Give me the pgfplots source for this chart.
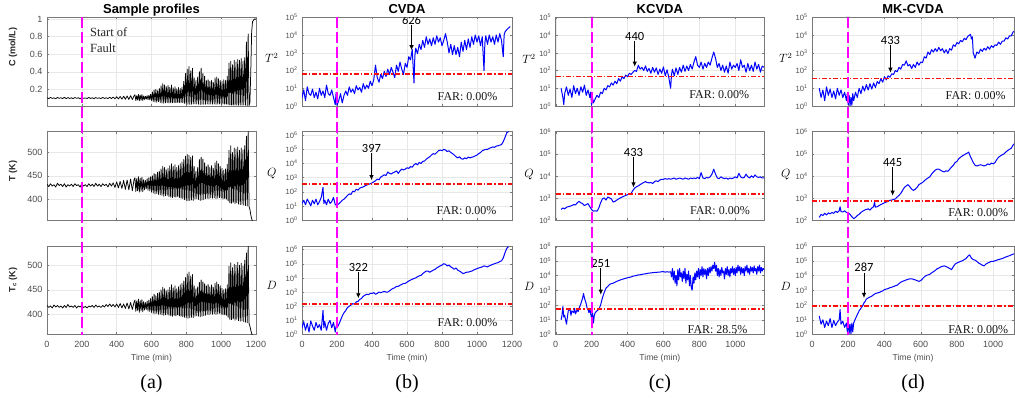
\documentclass[border=0pt]{standalone}
\usepackage{pgfplots}
\pgfplotsset{compat=1.18}
\usepackage{pgfplotstable}
\usepackage{fontspec}
\setmainfont{Liberation Sans}
\newfontfamily\serifff{Liberation Serif}
\newfontfamily\annff{Carlito}
\usetikzlibrary{arrows.meta}

\definecolor{mblue}{RGB}{0,0,255}
\definecolor{mred}{RGB}{250,15,15}
\definecolor{mmag}{RGB}{255,0,255}
\definecolor{axgray}{RGB}{120,120,120}
\definecolor{tickgray}{RGB}{77,77,77}

\pgfplotsset{
 mbase/.style={scale only axis, anchor=south west,
   axis line style={axgray, line width=0.5pt},
   every tick/.style={axgray, line width=0.4pt},
   tick align=inside, major tick length=2.2pt,
   tick label style={text=tickgray, font=\fontsize{9}{10}\selectfont},
   /pgf/number format/assume math mode=true,
   /pgf/number format/1000 sep={},
   grid=major, major grid style={black!9, line width=0.4pt},
   every axis title/.style={font=\bfseries\fontsize{13}{14}\selectfont, at={(0.5,1)}, anchor=base, yshift=3.7pt},
   xlabel style={font=\fontsize{8.6}{10}\selectfont, text=tickgray, at={(axis description cs:0.5,0)}, anchor=base, yshift=-26pt},
   xticklabel style={yshift=-3pt}, yticklabel style={xshift=-1pt},
   clip=true},
 nox/.style={xticklabels={}},
 logsty/.style={yminorticks=false, yticklabel style={font=\fontsize{7.6}{8}\selectfont}},
 dfive/.style={ytick={1,10,100,1000,10000,100000}, yticklabels={10\textsuperscript{0},10\textsuperscript{1},10\textsuperscript{2},10\textsuperscript{3},10\textsuperscript{4},10\textsuperscript{5}}},
 dsix/.style={ytick={1,10,100,1000,10000,100000,1000000}, yticklabels={10\textsuperscript{0},10\textsuperscript{1},10\textsuperscript{2},10\textsuperscript{3},10\textsuperscript{4},10\textsuperscript{5},10\textsuperscript{6}}},
 dtwosix/.style={ytick={100,1000,10000,100000,1000000}, yticklabels={10\textsuperscript{2},10\textsuperscript{3},10\textsuperscript{4},10\textsuperscript{5},10\textsuperscript{6}}},
 ylabm/.style 2 args={every axis y label/.style={at={(axis description cs:#1,#2)}, anchor=center, font=\fontsize{11.5}{12}\selectfont}},
 ylabr/.style 2 args={every axis y label/.style={at={(axis description cs:#1,#2)}, anchor=center, rotate=90, font=\bfseries\fontsize{9}{10}\selectfont, text=black!85}},
 blue line/.style={mblue, line width=1pt, line join=round},
 thr/.style={mred, line width=1.6pt, dash pattern=on 5pt off 2pt on 1.3pt off 2pt},
 prof/.style={black, line width=0.75pt, line join=round},
}

\newcommand{\alarm}[4]{\draw[line width=0.8pt, -{Latex[length=5pt,width=4.5pt]}] (axis cs:#1,#2) ++(0,#3) node[anchor=south, inner sep=0.3pt, font=\annff\fontsize{12.5}{14}\selectfont]{#4} -- (axis cs:#1,#2);}
\newcommand{\far}[3]{\node[anchor=base east, inner sep=0, xshift=#1, yshift=#2, font=\serifff\fontsize{12}{14}\selectfont, text=black!90] at (rel axis cs:1,0) {FAR: #3};}

% ---------------- data ----------------
\pgfplotstableread[row sep=\\]{t C T Tc\\
0 .105 432 418\\10 .094 427 414\\20 .108 433 417\\30 .096 428 413\\40 .103 431 419\\50 .092 426 415\\60 .107 434 418\\70 .097 429 414\\80 .104 432 417\\90 .095 427 413\\
100 .109 433 418\\110 .093 426 414\\120 .106 431 420\\130 .096 428 415\\140 .103 432 417\\150 .094 427 414\\160 .107 433 418\\170 .097 429 413\\180 .104 431 417\\190 .093 426 415\\
200 .106 433 418\\210 .097 428 414\\220 .102 431 416\\230 .095 427 413\\240 .108 433 417\\250 .096 428 415\\260 .104 432 418\\270 .094 427 414\\280 .106 434 419\\290 .097 428 415\\
300 .103 432 417\\310 .095 427 414\\320 .107 433 418\\330 .096 429 415\\340 .104 432 420\\350 .094 426 416\\360 .109 434 421\\370 .095 428 416\\380 .112 435 420\\390 .092 425 415\\
400 .115 437 421\\410 .090 424 414\\420 .118 438 422\\430 .088 423 413\\440 .122 440 421\\450 .087 421 412\\460 .125 441 423\\470 .085 420 411\\480 .128 443 424\\490 .084 418 410\\
500 .126 442 425\\505 .138 446 429\\510 .072 416 406\\515 .128 444 427\\520 .078 418 408\\525 .142 448 431\\530 .070 415 404\\535 .135 445 428\\540 .075 417 407\\545 .140 447 430\\
550 .073 416 405\\555 .125 442 426\\560 .085 420 409\\565 .120 440 424\\570 .088 422 410\\575 .128 444 427\\580 .082 419 407\\585 .132 446 429\\590 .080 418 406\\595 .145 448 432\\
600 .072 415 404\\605 .170 450 436\\610 .060 413 402\\615 .190 455 441\\620 .055 411 401\\625 .200 453 438\\630 .052 412 402\\635 .185 458 443\\640 .058 410 400\\645 .210 460 445\\
650 .050 409 400\\655 .240 465 450\\660 .045 408 399\\665 .265 470 455\\670 .042 406 398\\675 .250 468 452\\680 .046 407 399\\685 .230 463 448\\690 .048 408 400\\695 .245 466 450\\
700 .044 405 398\\705 .225 472 455\\710 .048 404 397\\715 .250 476 460\\720 .046 403 396\\725 .215 470 454\\730 .050 405 398\\735 .230 474 458\\740 .047 404 397\\745 .205 468 452\\
750 .052 406 399\\755 .220 472 456\\760 .049 403 397\\765 .210 476 460\\770 .050 402 396\\775 .225 480 463\\780 .046 401 395\\785 .290 485 468\\790 .040 399 394\\795 .380 492 475\\
800 .032 397 393\\805 .430 496 482\\810 .030 396 392\\815 .460 494 486\\820 .028 397 393\\825 .410 490 478\\830 .030 398 394\\835 .440 493 481\\840 .032 397 393\\845 .330 470 458\\
850 .034 400 396\\855 .300 460 452\\860 .032 401 397\\865 .340 468 456\\870 .030 399 396\\875 .400 485 465\\880 .028 397 395\\885 .440 490 470\\890 .030 398 396\\895 .380 486 466\\
900 .029 399 397\\905 .350 478 462\\910 .031 401 398\\915 .300 470 458\\920 .032 402 400\\925 .310 474 461\\930 .030 401 399\\935 .290 468 456\\940 .033 403 401\\945 .300 472 460\\
950 .031 402 400\\955 .280 466 455\\960 .032 403 401\\965 .330 478 463\\970 .030 401 400\\975 .340 482 466\\980 .031 402 401\\985 .320 476 461\\990 .033 403 402\\995 .300 470 458\\
1000 .031 402 400\\1005 .290 466 453\\1010 .032 400 399\\1015 .310 462 450\\1020 .030 401 399\\1025 .300 465 452\\1030 .031 400 398\\1035 .350 475 460\\1040 .028 396 394\\1045 .500 505 498\\
1050 .022 392 390\\1055 .520 515 505\\1060 .020 391 389\\1065 .480 500 495\\1070 .021 393 391\\1075 .530 510 502\\1080 .020 390 388\\1085 .510 508 500\\1090 .021 392 390\\1095 .540 512 506\\
1100 .019 389 387\\1105 .530 505 500\\1110 .020 388 386\\1115 .550 510 504\\1120 .019 389 387\\1125 .520 506 498\\1130 .020 387 385\\1135 .560 515 510\\1140 .018 386 384\\1145 .740 535 525\\
1150 .016 385 383\\1155 .830 545 538\\1160 .015 384 382\\1165 .050 378 376\\1170 .400 366 368\\1175 .850 358 361\\1180 .970 352 357\\1190 1.000 350 355\\1200 1.000 350 355\\
}\tprof

% CVDA
\pgfplotstableread[row sep=\\]{t v\\
0 3\\10 8\\20 2\\30 12\\40 5\\50 4\\60 9\\70 3\\80 6\\90 2.5\\100 10\\110 4\\120 7\\130 3\\140 15\\150 5\\160 4\\170 8\\180 3\\190 1.2\\195 6\\200 1.1\\210 2\\220 5\\230 1.5\\240 4\\250 7\\260 4\\270 12\\280 6\\290 9\\
300 5\\310 14\\320 8\\330 11\\340 6\\350 18\\360 9\\370 15\\380 10\\390 25\\400 14\\410 30\\420 200\\430 40\\440 22\\450 60\\460 35\\470 90\\480 45\\490 120\\500 60\\510 150\\520 80\\530 40\\540 200\\550 90\\560 300\\570 120\\580 60\\590 250\\
600 150\\610 600\\620 400\\630 1500\\640 20\\645 700\\650 1800\\660 900\\670 3000\\680 1500\\690 5000\\700 2000\\710 8000\\720 3000\\730 6000\\740 2500\\750 7000\\760 3000\\770 9000\\780 4000\\790 7000\\800 2500\\810 5000\\820 12000\\830 4000\\840 1000\\850 3000\\860 800\\870 2500\\880 800\\890 2000\\
900 600\\910 4000\\920 1200\\930 5000\\940 1500\\950 6000\\960 2000\\970 8000\\980 3000\\990 10000\\1000 4000\\1010 9000\\1020 2500\\1030 8000\\1040 100\\1045 3500\\1050 9000\\1060 3000\\1070 10000\\1080 4000\\1090 8000\\1100 3000\\1110 10000\\1120 4000\\1130 12000\\1140 5000\\1150 600\\1155 10000\\1160 15000\\1170 20000\\1180 25000\\1190 30000\\
}\tbA
\pgfplotstableread[row sep=\\]{t v\\
0 15\\10 25\\20 12\\30 30\\40 18\\50 10\\60 25\\70 14\\80 30\\90 12\\100 20\\110 40\\120 200\\125 15\\130 25\\140 12\\150 30\\160 15\\170 20\\180 40\\190 12\\200 11\\210 14\\220 18\\230 25\\240 30\\250 40\\260 55\\270 70\\280 65\\290 110\\
300 100\\310 150\\320 130\\330 180\\340 200\\350 220\\360 260\\370 300\\380 330\\390 370\\400 420\\410 500\\420 600\\430 800\\440 700\\450 1100\\460 1300\\470 1600\\480 1400\\490 2500\\500 2000\\510 1800\\520 2200\\530 2500\\540 3000\\550 2000\\560 3000\\570 4000\\580 3500\\590 4000\\
600 5000\\610 4500\\620 6000\\630 5500\\640 8000\\650 10000\\660 8000\\670 12000\\680 10000\\690 14000\\700 15000\\710 20000\\720 25000\\730 30000\\740 40000\\750 50000\\760 45000\\770 60000\\780 80000\\790 90000\\800 80000\\810 100000\\820 90000\\830 70000\\840 80000\\850 60000\\860 50000\\870 40000\\880 30000\\890 25000\\
900 30000\\910 22000\\920 20000\\930 25000\\940 22000\\950 28000\\960 25000\\970 28000\\980 30000\\990 35000\\1000 40000\\1010 50000\\1020 60000\\1030 80000\\1040 90000\\1050 100000\\1060 100000\\1070 120000\\1080 130000\\1090 150000\\1100 140000\\1110 170000\\1120 180000\\1130 200000\\1140 220000\\1150 350000\\1160 700000\\1170 1500000\\1180 1800000\\
}\tbB
\pgfplotstableread[row sep=\\]{t v\\
0 3\\10 8\\20 2\\30 6\\40 1.5\\50 9\\60 4\\70 2\\80 7\\90 3\\100 5\\110 2\\120 50\\125 3\\130 8\\140 2\\150 6\\160 10\\170 3\\180 7\\190 1.5\\195 4\\200 3\\210 5\\220 10\\230 20\\240 35\\250 50\\260 80\\270 100\\280 120\\290 150\\
300 140\\310 200\\320 220\\330 300\\340 350\\350 500\\360 600\\370 700\\380 650\\390 800\\400 800\\410 900\\420 700\\430 800\\440 1000\\450 900\\460 1000\\470 1100\\480 1000\\490 1000\\500 1200\\510 1500\\520 1800\\530 2000\\540 2500\\550 2500\\560 3000\\570 3500\\580 4000\\590 4000\\
600 5000\\610 6000\\620 7000\\630 8000\\640 9000\\650 10000\\660 12000\\670 14000\\680 15000\\690 20000\\700 25000\\710 30000\\720 30000\\730 25000\\740 30000\\750 35000\\760 40000\\770 50000\\780 60000\\790 70000\\800 80000\\810 100000\\820 90000\\830 70000\\840 80000\\850 60000\\860 50000\\870 40000\\880 50000\\890 35000\\
900 30000\\910 25000\\920 20000\\930 22000\\940 25000\\950 25000\\960 28000\\970 30000\\980 35000\\990 40000\\1000 45000\\1010 50000\\1020 55000\\1030 60000\\1040 70000\\1050 65000\\1060 60000\\1070 70000\\1080 80000\\1090 90000\\1100 100000\\1110 110000\\1120 120000\\1130 140000\\1140 160000\\1150 250000\\1160 600000\\1170 1200000\\1180 1600000\\
}\tbC

% KCVDA
\pgfplotstableread[row sep=\\]{t v\\
30 10\\40 3\\45 1.2\\50 5\\60 12\\70 4\\80 9\\90 3\\100 14\\110 5\\120 10\\130 4\\140 12\\150 6\\160 15\\170 4\\180 8\\190 3\\195 6\\200 1.1\\205 3\\210 1.5\\220 2.5\\230 4\\240 3\\250 6\\260 5\\270 10\\280 8\\290 14\\
300 12\\310 20\\320 15\\330 25\\340 18\\350 35\\360 25\\370 45\\380 35\\390 55\\400 45\\410 70\\420 60\\430 80\\440 100\\450 90\\460 200\\470 120\\480 150\\490 100\\500 180\\510 90\\520 130\\530 70\\540 150\\550 80\\560 140\\570 60\\580 120\\590 70\\
600 160\\610 50\\620 110\\630 40\\640 10\\645 60\\650 120\\660 50\\670 140\\680 60\\690 150\\700 80\\710 200\\720 90\\730 180\\740 100\\750 220\\760 120\\770 300\\780 600\\790 200\\800 150\\810 300\\820 120\\830 250\\840 150\\850 300\\860 200\\870 500\\880 1100\\890 500\\
900 150\\910 250\\920 100\\930 200\\940 80\\950 180\\960 70\\970 300\\980 120\\990 200\\1000 150\\1010 250\\1020 100\\1030 400\\1040 150\\1050 200\\1060 80\\1070 250\\1080 100\\1090 200\\1100 90\\1110 300\\1120 120\\1130 220\\1140 80\\1150 180\\1160 150\\
}\tcA
\pgfplotstableread[row sep=\\]{t v\\
30 300\\40 350\\50 320\\60 380\\70 400\\80 420\\90 450\\100 500\\110 480\\120 600\\130 700\\140 600\\150 550\\160 450\\170 500\\180 550\\190 400\\200 300\\210 250\\220 260\\230 250\\240 350\\250 600\\260 900\\270 1000\\280 800\\290 1100\\
300 1000\\310 900\\320 650\\330 700\\340 800\\350 900\\360 1000\\370 1100\\380 1200\\390 1300\\400 1400\\410 1500\\420 1600\\430 2200\\440 2800\\450 3200\\460 3500\\470 4000\\480 4500\\490 5000\\500 5500\\510 5000\\520 4800\\530 5000\\540 4500\\550 5500\\560 6000\\570 5500\\580 6500\\590 7000\\
600 7000\\610 7500\\620 7000\\630 7500\\640 7000\\650 7500\\660 8000\\670 7000\\680 7500\\690 8000\\700 7500\\710 7000\\720 8000\\730 7500\\740 7000\\750 8000\\760 7500\\770 8000\\780 7500\\790 8500\\800 7500\\810 14000\\820 8000\\830 7500\\840 8500\\850 8000\\860 9000\\870 12000\\880 20000\\890 12000\\
900 8000\\910 7500\\920 9000\\930 8000\\940 7500\\950 8000\\960 7000\\970 8000\\980 7500\\990 8000\\1000 9000\\1010 8000\\1020 13000\\1030 9000\\1040 8000\\1050 8500\\1060 12000\\1070 9000\\1080 8000\\1090 10000\\1100 8500\\1110 11000\\1120 9000\\1130 8500\\1140 9000\\1150 8000\\1160 8000\\
}\tcB
\pgfplotstableread[row sep=\\]{t v\\
30 10\\35 20\\40 80\\45 15\\50 20\\55 10\\60 5\\65 15\\70 40\\80 50\\85 20\\90 40\\100 30\\105 60\\110 25\\120 50\\125 35\\130 60\\140 120\\150 300\\155 600\\160 300\\170 120\\175 60\\180 50\\185 30\\190 60\\195 25\\200 12\\205 30\\210 6\\215 20\\220 30\\230 40\\240 50\\250 100\\260 300\\270 700\\280 1400\\290 1800\\
300 2500\\310 2800\\320 3000\\330 3500\\340 4000\\350 4500\\360 5000\\370 5500\\380 6000\\390 6500\\400 7000\\410 7500\\420 8000\\430 9000\\440 9500\\450 10000\\460 11000\\470 11000\\480 12000\\490 12500\\500 13000\\510 14000\\520 14500\\530 15000\\540 15500\\550 16000\\560 16000\\570 17000\\580 17000\\590 18000\\
600 18000\\610 17000\\620 18000\\630 17000\\640 18000\\645 8000\\650 30000\\655 5000\\660 20000\\665 3000\\670 10000\\675 2000\\680 25000\\685 5000\\690 30000\\695 8000\\700 15000\\705 4000\\710 20000\\715 6000\\720 30000\\725 3000\\730 12000\\735 5000\\740 20000\\745 2000\\750 10000\\755 1500\\760 1000\\765 8000\\770 3000\\775 15000\\780 5000\\785 20000\\790 8000\\795 30000\\
800 6000\\805 25000\\810 10000\\815 40000\\820 8000\\825 30000\\830 12000\\835 25000\\840 6000\\845 30000\\850 10000\\855 35000\\860 15000\\865 40000\\870 20000\\875 50000\\880 30000\\885 80000\\890 20000\\895 50000\\
900 10000\\905 30000\\910 8000\\915 25000\\920 10000\\925 35000\\930 15000\\935 20000\\940 6000\\945 30000\\950 12000\\955 40000\\960 10000\\965 25000\\970 8000\\975 30000\\980 15000\\985 40000\\990 12000\\995 30000\\
1000 10000\\1005 35000\\1010 15000\\1015 50000\\1020 20000\\1025 40000\\1030 12000\\1035 35000\\1040 15000\\1045 30000\\1050 10000\\1055 40000\\1060 20000\\1065 50000\\1070 15000\\1075 30000\\1080 12000\\1085 40000\\1090 20000\\1095 35000\\
1100 15000\\1105 45000\\1110 20000\\1115 30000\\1120 12000\\1125 40000\\1130 20000\\1135 50000\\1140 15000\\1145 35000\\1150 20000\\1155 30000\\1160 25000\\
}\tcC

% MK-CVDA
\pgfplotstableread[row sep=\\]{t v\\
40 10\\50 3\\60 8\\70 2\\80 12\\90 4\\100 9\\110 3\\120 7\\130 2.5\\140 10\\150 4\\160 8\\170 3\\180 6\\190 2\\195 5\\200 1.2\\205 4\\210 1\\215 3\\220 1.1\\225 5\\230 2\\240 6\\250 3\\260 10\\270 5\\280 13\\290 7\\
300 16\\310 8\\320 18\\330 9\\340 20\\350 11\\360 24\\370 18\\380 35\\390 22\\400 45\\410 30\\420 50\\430 42\\440 65\\450 60\\460 100\\470 85\\480 150\\490 120\\500 220\\510 200\\520 350\\530 180\\540 220\\550 130\\560 220\\570 150\\580 300\\590 200\\
600 300\\610 280\\620 600\\630 500\\640 1100\\650 800\\660 1500\\670 1100\\680 1700\\690 1200\\700 2000\\710 1300\\720 1700\\730 1000\\740 1500\\750 900\\760 1700\\770 1400\\780 2800\\790 2300\\800 3800\\810 3200\\820 5000\\830 4200\\840 6500\\850 5500\\860 8500\\870 10000\\875 11000\\880 6000\\885 8000\\890 1000\\895 700\\
900 500\\910 1100\\920 900\\930 1600\\940 1200\\950 1800\\960 1400\\970 2200\\980 1600\\990 2500\\1000 2000\\1010 2800\\1020 2600\\1030 4000\\1040 3000\\1050 4500\\1060 4500\\1070 7000\\1080 6000\\1090 9000\\1100 9000\\1110 15000\\1115 16000\\
}\tdA
\pgfplotstableread[row sep=\\]{t v\\
40 130\\50 180\\60 160\\70 200\\80 170\\90 210\\100 190\\110 220\\120 200\\130 250\\140 220\\150 260\\155 400\\160 240\\170 230\\180 260\\190 220\\200 210\\210 180\\220 140\\230 115\\240 130\\250 160\\260 180\\270 220\\280 250\\290 280\\
300 300\\310 320\\320 280\\330 350\\340 400\\345 650\\350 380\\360 400\\370 450\\380 500\\390 550\\400 600\\410 650\\420 700\\430 780\\440 800\\450 850\\460 900\\470 1100\\480 1300\\490 1600\\500 2200\\510 3000\\520 3500\\530 4000\\540 3200\\550 2500\\560 2200\\570 2500\\580 3000\\590 4000\\
600 4500\\610 5000\\620 6000\\630 7000\\640 8000\\650 9000\\660 12000\\670 15000\\680 18000\\690 20000\\700 20000\\710 18000\\720 16000\\730 15000\\740 17000\\750 16000\\760 20000\\770 25000\\780 30000\\790 40000\\800 45000\\810 60000\\820 70000\\830 80000\\840 90000\\850 100000\\860 110000\\865 120000\\870 90000\\880 60000\\890 40000\\
900 30000\\910 28000\\920 30000\\930 32000\\940 30000\\950 28000\\960 30000\\970 35000\\980 32000\\990 38000\\1000 35000\\1010 40000\\1020 55000\\1030 70000\\1040 80000\\1050 90000\\1060 100000\\1070 120000\\1080 140000\\1090 160000\\1100 180000\\1110 250000\\1115 280000\\
}\tdB
\pgfplotstableread[row sep=\\]{t v\\
40 18\\50 5\\60 10\\70 3\\80 8\\90 4\\100 12\\110 3\\120 9\\130 4\\140 7\\150 10\\155 50\\160 5\\170 8\\180 3\\190 6\\195 1.5\\200 8\\205 1.2\\210 5\\215 1.1\\220 6\\225 1.5\\230 6\\240 12\\250 22\\260 40\\270 60\\280 90\\287 140\\290 150\\
300 250\\310 300\\320 350\\330 400\\340 500\\350 600\\360 650\\370 700\\380 800\\390 900\\400 1100\\410 1200\\420 1300\\430 1500\\440 1600\\450 1800\\460 2000\\470 2200\\480 2800\\490 3500\\500 4000\\510 4500\\520 5000\\530 5500\\540 6000\\550 6000\\560 5500\\570 5000\\580 4500\\590 4000\\
600 4500\\610 6000\\620 8000\\630 10000\\640 11000\\650 12000\\660 15000\\670 18000\\680 22000\\690 28000\\700 32000\\710 38000\\720 42000\\730 45000\\740 40000\\750 35000\\760 30000\\770 25000\\780 40000\\790 60000\\800 70000\\810 80000\\820 90000\\830 100000\\840 120000\\850 140000\\860 200000\\870 250000\\880 150000\\890 120000\\
900 110000\\910 90000\\920 70000\\930 60000\\940 50000\\950 45000\\960 60000\\970 70000\\980 80000\\990 90000\\1000 90000\\1010 100000\\1020 110000\\1030 120000\\1040 130000\\1050 140000\\1060 160000\\1070 180000\\1080 200000\\1090 220000\\1100 250000\\1110 280000\\1115 300000\\
}\tdC

\begin{document}
\begin{tikzpicture}
\path[use as bounding box] (0,0) rectangle (1015pt,397pt);

% ================= column (a) =================
\begin{axis}[mbase, nox, at={(47pt,291pt)}, width=209pt, height=88.7pt,
  xmin=0, xmax=1200, xtick={0,200,...,1200}, ymin=0.01, ymax=1.02, ytick={0.2,0.4,0.6,0.8,1},
  title={Sample profiles}, ylabr={-0.163}{0.66}, ylabel={C (mol/L)}]
\addplot[prof] table[x=t,y=C]{\tprof};
\coordinate (fa1) at (axis cs:200,1.02);
\node[anchor=base west, inner sep=0, font=\serifff\fontsize{12.5}{14}\selectfont, text=black!85] at (axis cs:247,0.796) {Start of};
\node[anchor=base west, inner sep=0, font=\serifff\fontsize{12.5}{14}\selectfont, text=black!85] at (axis cs:247,0.619) {Fault};
\end{axis}

\begin{axis}[mbase, nox, at={(47pt,177pt)}, width=209pt, height=88.3pt,
  xmin=0, xmax=1200, xtick={0,200,...,1200}, ymin=355, ymax=545, ytick={400,450,500},
  ylabr={-0.163}{0.557}, ylabel={T (K)}]
\addplot[prof] table[x=t,y=T]{\tprof};
\end{axis}

\begin{axis}[mbase, at={(47pt,62.5pt)}, width=209pt, height=88.5pt,
  xmin=0, xmax=1200, xtick={0,200,...,1200}, ymin=359, ymax=539, ytick={400,450,500},
  ylabr={-0.163}{0.616}, ylabel={T\textsubscript{c} (K)}, xlabel={Time (min)}]
\addplot[prof] table[x=t,y=Tc]{\tprof};
\coordinate (fa3) at (axis cs:200,359);
\coordinate (capa) at (axis description cs:0.5,0);
\end{axis}

% ================= column (b) =================
\begin{axis}[mbase, nox, ymode=log, logsty, dfive, at={(302pt,291pt)}, width=210pt, height=88.7pt,
  xmin=0, xmax=1200, xtick={0,200,...,1200}, ymin=1, ymax=100000,
  title={CVDA}, ylabm={-0.144}{0.54}, ylabel={$T^2$}]
\addplot[blue line] table[x=t,y=v]{\tbA};
\addplot[thr] coordinates {(0,64) (1200,64)};
\coordinate (fb1) at (axis cs:200,100000);
\alarm{626}{1400}{17pt}{626}
\far{-14.3pt}{5.5pt}{0.00\%}
\end{axis}

\begin{axis}[mbase, nox, ymode=log, logsty, dsix, at={(302pt,177pt)}, width=210pt, height=88.3pt,
  xmin=0, xmax=1200, xtick={0,200,...,1200}, ymin=1, ymax=1780000,
  ylabm={-0.144}{0.53}, ylabel={$Q$}]
\addplot[blue line] table[x=t,y=v]{\tbB};
\addplot[thr] coordinates {(0,350) (1200,350)};
\alarm{397}{660}{21pt}{397}
\far{-15.3pt}{6pt}{0.00\%}
\end{axis}

\begin{axis}[mbase, ymode=log, logsty, dsix, at={(302pt,62.5pt)}, width=210pt, height=88.5pt,
  xmin=0, xmax=1200, xtick={0,200,...,1200}, ymin=1, ymax=1780000,
  ylabm={-0.144}{0.56}, ylabel={$D$}, xlabel={Time (min)}]
\addplot[blue line] table[x=t,y=v]{\tbC};
\addplot[thr] coordinates {(0,140) (1200,140)};
\coordinate (fb3) at (axis cs:200,1);
\coordinate (capb) at (axis description cs:0.5,0);
\alarm{322}{360}{20pt}{322}
\far{-14.3pt}{8pt}{0.00\%}
\end{axis}

% ================= column (c) =================
\begin{axis}[mbase, nox, ymode=log, logsty, dfive, at={(555.7pt,291pt)}, width=208.3pt, height=88.7pt,
  xmin=0, xmax=1160, xtick={0,200,...,1000}, ymin=1, ymax=100000,
  title={KCVDA}, ylabm={-0.128}{0.53}, ylabel={$T^2$}]
\addplot[blue line] table[x=t,y=v]{\tcA};
\addplot[thr] coordinates {(0,45) (1160,45)};
\coordinate (fc1) at (axis cs:200,100000);
\alarm{440}{165}{18pt}{440}
\far{-14.7pt}{7pt}{0.00\%}
\end{axis}

\begin{axis}[mbase, nox, ymode=log, logsty, dtwosix, at={(555.7pt,177pt)}, width=208.3pt, height=88.3pt,
  xmin=0, xmax=1160, xtick={0,200,...,1000}, ymin=100, ymax=1000000,
  ylabm={-0.128}{0.52}, ylabel={$Q$}]
\addplot[blue line] table[x=t,y=v]{\tcB};
\addplot[thr] coordinates {(0,1500) (1160,1500)};
\alarm{433}{3000}{20.5pt}{433}
\far{-14pt}{5pt}{0.00\%}
\end{axis}

\begin{axis}[mbase, ymode=log, logsty, dsix, at={(555.7pt,62.5pt)}, width=208.3pt, height=88.5pt,
  xmin=0, xmax=1160, xtick={0,200,...,1000}, ymin=1, ymax=1000000,
  ylabm={-0.128}{0.545}, ylabel={$D$}, xlabel={Time (min)}]
\addplot[blue line] table[x=t,y=v]{\tcC};
\addplot[thr] coordinates {(0,54) (1160,54)};
\coordinate (fc3) at (axis cs:200,1);
\coordinate (capc) at (axis description cs:0.5,0);
\alarm{251}{500}{20pt}{251}
\far{-16.3pt}{1.5pt}{28.5\%}
\end{axis}

% ================= column (d) =================
\begin{axis}[mbase, nox, ymode=log, logsty, dfive, at={(812pt,291pt)}, width=202pt, height=88.7pt,
  xmin=0, xmax=1115, xtick={0,200,...,1000}, ymin=1, ymax=100000,
  title={MK-CVDA}, ylabm={-0.13}{0.545}, ylabel={$T^2$}]
\addplot[blue line] table[x=t,y=v]{\tdA};
\addplot[thr] coordinates {(0,36) (1115,36)};
\coordinate (fd1) at (axis cs:200,100000);
\alarm{433}{75}{20pt}{433}
\far{-8.3pt}{6pt}{0.00\%}
\end{axis}

\begin{axis}[mbase, nox, ymode=log, logsty, dtwosix, at={(812pt,177pt)}, width=202pt, height=88.3pt,
  xmin=0, xmax=1115, xtick={0,200,...,1000}, ymin=100, ymax=1000000,
  ylabm={-0.13}{0.52}, ylabel={$Q$}]
\addplot[blue line] table[x=t,y=v]{\tdB};
\addplot[thr] coordinates {(0,720) (1115,720)};
\alarm{445}{1260}{19pt}{445}
\far{-5.7pt}{3pt}{0.00\%}
\end{axis}

\begin{axis}[mbase, ymode=log, logsty, dsix, at={(812pt,62.5pt)}, width=202pt, height=88.5pt,
  xmin=0, xmax=1115, xtick={0,200,...,1000}, ymin=1, ymax=1000000,
  ylabm={-0.13}{0.54}, ylabel={$D$}, xlabel={Time (min)}]
\addplot[blue line] table[x=t,y=v]{\tdC};
\addplot[thr] coordinates {(0,85) (1115,85)};
\coordinate (fd3) at (axis cs:200,1);
\coordinate (capd) at (axis description cs:0.5,0);
\alarm{287}{300}{19pt}{287}
\far{-5.7pt}{1.5pt}{0.00\%}
\end{axis}

% fault-start lines
\foreach \c in {a,b,c,d}{
  \draw[mmag, line width=1.8pt, dash pattern=on 11pt off 4pt] (f\c1) -- (f\c3);
}
% sub-captions
\foreach \c in {a,b,c,d}{
  \node[anchor=base, font=\serifff\fontsize{20}{22}\selectfont, yshift=-53.5pt] at (cap\c) {(\c)};
}
\end{tikzpicture}
\end{document}
